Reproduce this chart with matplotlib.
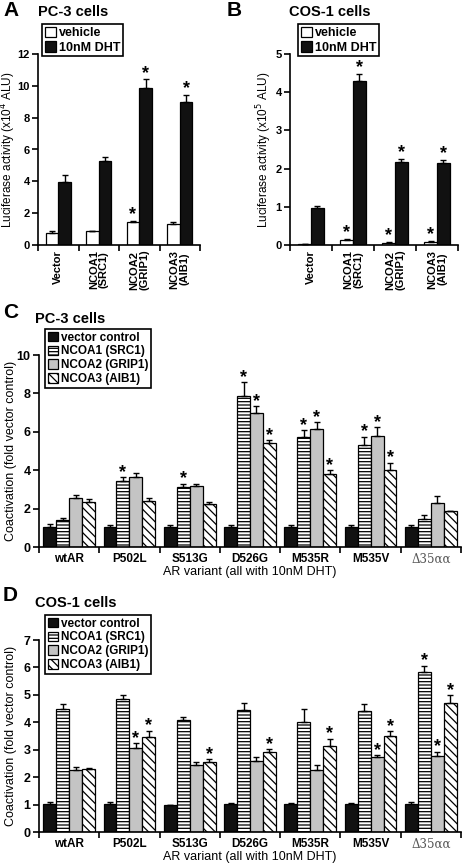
import numpy as np
import matplotlib.pyplot as plt
from matplotlib.patches import Patch

plt.rcParams['font.family'] = ['Liberation Sans', 'DejaVu Sans']
plt.rcParams['hatch.linewidth'] = 0.9

# ---- data ----
ab_groups = ['Vector', 'NCOA1\n(SRC1)', 'NCOA2\n(GRIP1)', 'NCOA3\n(AIB1)']
ab_series = ['vehicle', '10nM DHT']

a_vehicle = [0.75, 0.85, 1.42, 1.35]
a_vehicle_err = [0.15, 0.05, 0.08, 0.12]
a_dht = [3.95, 5.25, 9.85, 9.0]
a_dht_err = [0.45, 0.3, 0.55, 0.45]
a_vehicle_sig = [False, False, True, False]
a_dht_sig = [False, False, True, True]

b_vehicle = [0.02, 0.12, 0.06, 0.09]
b_vehicle_err = [0.0, 0.03, 0.02, 0.01]
b_dht = [0.97, 4.3, 2.18, 2.15]
b_dht_err = [0.05, 0.17, 0.08, 0.08]
b_vehicle_sig = [False, True, True, True]
b_dht_sig = [False, True, True, True]

variants = ['wtAR', 'P502L', 'S513G', 'D526G', 'M535R', 'M535V', '\u039435\u03b1\u03b1']
coact_series = ['vector control', 'NCOA1 (SRC1)', 'NCOA2 (GRIP1)', 'NCOA3 (AIB1)']

c_vals = [
    [1.05, 1.05, 1.05, 1.05, 1.05, 1.05, 1.05],
    [1.4, 3.45, 3.15, 7.85, 5.75, 5.3, 1.45],
    [2.55, 3.65, 3.2, 7.0, 6.15, 5.8, 2.3],
    [2.35, 2.4, 2.25, 5.4, 3.8, 4.0, 1.85],
]
c_err = [
    [0.15, 0.08, 0.08, 0.08, 0.08, 0.08, 0.08],
    [0.1, 0.2, 0.15, 0.75, 0.35, 0.45, 0.2],
    [0.15, 0.2, 0.08, 0.35, 0.35, 0.45, 0.35],
    [0.15, 0.15, 0.08, 0.15, 0.2, 0.4, 0.0],
]
c_sig = [
    [0, 0, 0, 0, 0, 0, 0],
    [0, 1, 1, 1, 1, 1, 0],
    [0, 0, 0, 1, 1, 1, 0],
    [0, 0, 0, 1, 1, 1, 0],
]

d_vals = [
    [1.02, 1.02, 1.0, 1.02, 1.02, 1.02, 1.02],
    [4.5, 4.85, 4.08, 4.45, 4.0, 4.4, 5.82],
    [2.27, 3.07, 2.45, 2.6, 2.25, 2.75, 2.78],
    [2.28, 3.45, 2.57, 2.93, 3.15, 3.5, 4.7],
]
d_err = [
    [0.06, 0.06, 0.0, 0.03, 0.03, 0.03, 0.06],
    [0.18, 0.15, 0.1, 0.25, 0.5, 0.28, 0.25],
    [0.1, 0.18, 0.1, 0.15, 0.18, 0.05, 0.15],
    [0.06, 0.25, 0.1, 0.1, 0.25, 0.18, 0.3],
]
d_sig = [
    [0, 0, 0, 0, 0, 0, 0],
    [0, 0, 0, 0, 0, 0, 1],
    [0, 1, 0, 0, 0, 1, 1],
    [0, 1, 1, 1, 1, 1, 1],
]

# ---- styles ----
ab_styles = [dict(facecolor='white', hatch=None), dict(facecolor='#111111', hatch=None)]
coact_styles = [
    dict(facecolor='#111111', hatch=None),
    dict(facecolor='white', hatch='-----'),
    dict(facecolor='#c4c4c4', hatch=None),
    dict(facecolor='white', hatch='\\\\\\\\'),
]


def style_axis(ax, size):
    for s in ['top', 'right']:
        ax.spines[s].set_visible(False)
    for s in ['left', 'bottom']:
        ax.spines[s].set_linewidth(1.2)
    ax.tick_params(axis='y', direction='out', length=4, width=1.2, labelsize=size, pad=2)
    for lab in ax.get_yticklabels():
        lab.set_fontweight('bold')


def draw_bars(ax, vals, errs, sigs, width, styles, star_off, star_size):
    n = len(vals)
    x = np.arange(len(vals[0]))
    for k in range(n):
        xs = x + (k - (n - 1) / 2) * width
        ax.bar(xs, vals[k], width, edgecolor='black', linewidth=0.9, zorder=2, **styles[k])
        e = np.array(errs[k])
        ax.errorbar(xs, vals[k], yerr=[np.zeros_like(e), e], fmt='none', ecolor='black',
                    elinewidth=1, capsize=2.5, capthick=1, zorder=3)
        for xi, v, ei, s in zip(xs, vals[k], e, sigs[k]):
            if s:
                ax.text(xi, v + ei + star_off, '*', ha='center', va='bottom',
                        fontsize=star_size, fontweight='bold')
    ax.set_xlim(-0.5, len(x) - 0.5)
    ax.set_xticks(np.arange(len(x) + 1) - 0.5)
    ax.set_xticklabels([])
    ax.tick_params(axis='x', which='major', direction='out', length=4, width=1.2)
    ax.set_xticks(x, minor=True)
    ax.tick_params(axis='x', which='minor', length=0)


fig = plt.figure(figsize=(4.62, 8.63), dpi=100)
W, H = 462, 863


def add_ax(l, r, t, b):
    return fig.add_axes([l / W, 1 - b / H, (r - l) / W, (b - t) / H])


def add_legend(ax, labels, styles, anchor, size):
    handles = [Patch(edgecolor='black', linewidth=0.9, **st) for st in styles]
    ax.legend(handles, labels, loc='upper left', bbox_to_anchor=(anchor[0] / W, 1 - anchor[1] / H),
              bbox_transform=fig.transFigure, frameon=True, fancybox=False, edgecolor='black',
              framealpha=1, prop=dict(size=size, weight='bold'), handlelength=0.9, handleheight=0.9,
              handletextpad=0.25, labelspacing=0.16, borderpad=0.22, borderaxespad=0).get_frame().set_linewidth(1.2)


# Panel A
axA = add_ax(38, 200, 54, 245)
draw_bars(axA, [a_vehicle, a_dht], [a_vehicle_err, a_dht_err],
          [a_vehicle_sig, a_dht_sig], 0.31, ab_styles, -0.15, 13)
axA.set_ylim(0, 12)
axA.set_yticks(range(0, 13, 2))
axA.set_xticklabels(ab_groups, minor=True, rotation=90, fontsize=8, fontweight='bold',
                    linespacing=1.0)
axA.set_ylabel('Luciferase activity (x10$^4$ ALU)', fontsize=8.5)
axA.yaxis.set_label_coords((18 - 38) / 162, 0.5)
style_axis(axA, 8)

# Panel B
axB = add_ax(290, 458, 54, 245)
draw_bars(axB, [b_vehicle, b_dht], [b_vehicle_err, b_dht_err],
          [b_vehicle_sig, b_dht_sig], 0.3, ab_styles, -0.06, 13)
axB.set_ylim(0, 5)
axB.set_yticks(range(0, 6))
axB.set_xticklabels(ab_groups, minor=True, rotation=90, fontsize=8, fontweight='bold',
                    linespacing=1.0)
axB.set_ylabel('Luciferase activity (x10$^5$ ALU)', fontsize=8.5)
axB.yaxis.set_label_coords((274 - 290) / 168, 0.5)
style_axis(axB, 8)

add_legend(axA, ab_series, ab_styles, (42, 24), 9)
add_legend(axB, ab_series, ab_styles, (298, 24), 9)

# Panels C and D
axC = add_ax(39, 461, 355, 547)
draw_bars(axC, c_vals, c_err, c_sig, 0.215, coact_styles, -0.2, 13)
axC.set_ylim(0, 10)
axC.set_yticks(range(0, 11, 2))

axD = add_ax(39, 461, 640, 832)
draw_bars(axD, d_vals, d_err, d_sig, 0.215, coact_styles, -0.14, 13)
axD.set_ylim(0, 7)
axD.set_yticks(range(0, 8))

for ax, anchor in [(axC, (45, 329)), (axD, (45, 615))]:
    ax.set_xticklabels(variants, minor=True, fontsize=8.5, fontweight='bold')
    lab = ax.get_xticklabels(minor=True)[-1]
    lab.set_fontfamily('DejaVu Serif')
    lab.set_fontweight('normal')
    lab.set_color('#555555')
    ax.tick_params(axis='x', which='minor', pad=4)
    ax.set_xlabel('AR variant (all with 10nM DHT)', fontsize=9, labelpad=0)
    ax.set_ylabel('Coactivation (fold vector control)', fontsize=9)
    ax.yaxis.set_label_coords((17 - 39) / 422, 0.5)
    style_axis(ax, 9)
    add_legend(ax, coact_series, coact_styles, anchor, 8.5)

# panel letters and titles
for letter, lx, ly, title, tx, ty in [('A', 3, 11, 'PC-3 cells', 38, 12),
                                      ('B', 227, 11, 'COS-1 cells', 289, 12),
                                      ('C', 3, 312, 'PC-3 cells', 35, 319),
                                      ('D', 3, 595, 'COS-1 cells', 35, 603)]:
    fig.text(lx / W, 1 - ly / H, letter, fontsize=15, fontweight='bold', va='center', ha='left')
    fig.text(tx / W, 1 - ty / H, title, fontsize=10.5, fontweight='bold', va='center', ha='left')

fig.savefig('out.png', dpi=100)
